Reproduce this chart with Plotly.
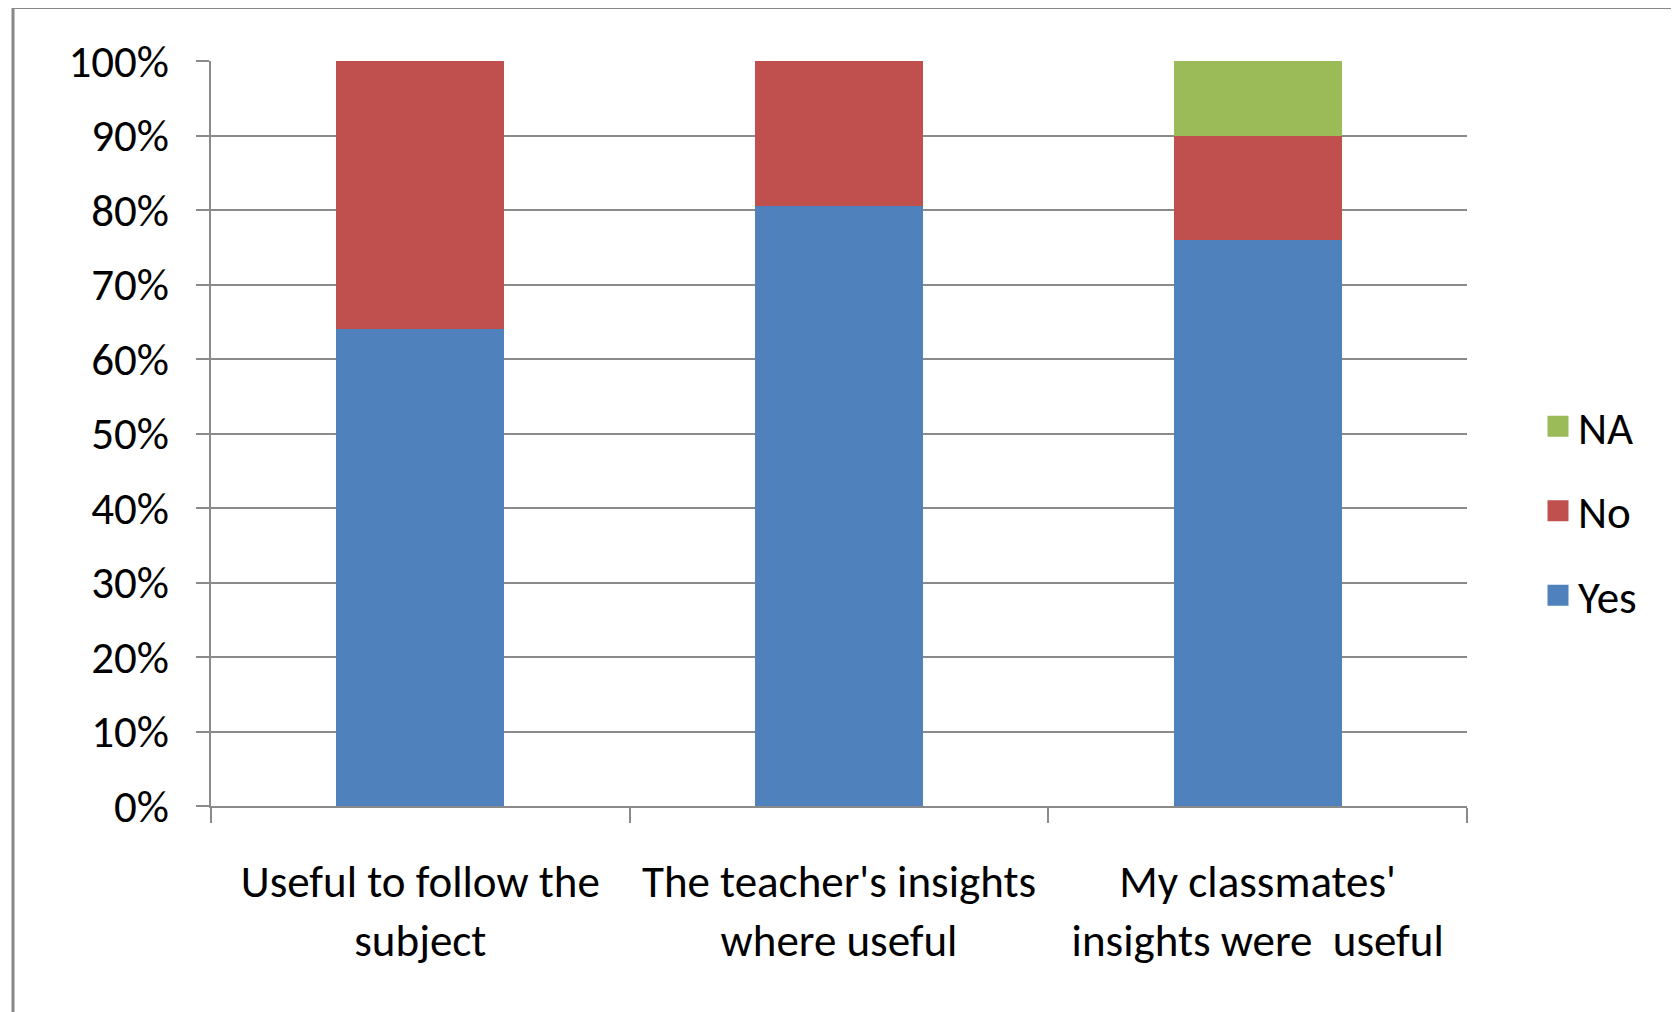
import plotly.graph_objects as go

categories = ["Useful to follow the<br>subject",
              "The teacher's insights<br>where useful",
              "My classmates'<br>insights were  useful"]
yes_vals = [0.64, 0.806, 0.76]
no_vals = [0.36, 0.194, 0.14]
na_vals = [0.0, 0.0, 0.10]
y_ticks = [0, 0.1, 0.2, 0.3, 0.4, 0.5, 0.6, 0.7, 0.8, 0.9, 1.0]

series = [("Yes", yes_vals, "#4F81BD"), ("No", no_vals, "#C0504D"), ("NA", na_vals, "#9BBB59")]

FONT = "Carlito, Lato, sans-serif"
GRID = "#8A8A8A"
FS = 45

fig = go.Figure()
for name, vals, col in series:
    fig.add_trace(go.Bar(x=categories, y=vals, name=name, marker=dict(color=col, line=dict(width=0)),
                         showlegend=False))
# legend entries (top to bottom: NA, No, Yes)
for name, vals, col in reversed(series):
    fig.add_trace(go.Scatter(x=[None], y=[None], mode="markers", name=name, legendgroup=name,
                             marker=dict(symbol="square", size=16, color=col,
                                         line=dict(color=col, width=5))))

W, H = 1679, 1012
OFF = 8  # page body margin
L, R, T, B = 211 - OFF, 1467 - OFF, 61 - OFF, 806 - OFF
pw, ph = R - L, B - T

def px_x(x):
    return (x - OFF - L) / pw

def px_y(y):
    return (B - (y - OFF)) / ph

fig.update_layout(
    width=W, height=H,
    margin=dict(l=L, r=W - R, t=T, b=H - B, pad=0),
    paper_bgcolor="white", plot_bgcolor="white",
    barmode="stack", bargap=0.598,
    font=dict(family=FONT, size=FS, color="black"),
    legend=dict(x=px_x(1538), xanchor="left", y=px_y(511), yanchor="middle",
                traceorder="grouped", tracegroupgap=23,
                font=dict(family=FONT, size=FS, color="black"),
                itemsizing="trace", bgcolor="rgba(0,0,0,0)"),
    xaxis=dict(type="category", showgrid=False, showline=True, linecolor=GRID, linewidth=2,
               ticks="outside", tickson="boundaries", ticklen=15, tickwidth=2, tickcolor=GRID,
               tickfont=dict(family=FONT, size=FS, color="black"), ticklabelstandoff=35),
    yaxis=dict(range=[0, 1], tickvals=y_ticks, tickformat=".0%", showgrid=True, gridcolor=GRID,
               gridwidth=2, zeroline=False, showline=True, linecolor=GRID, linewidth=2,
               ticks="outside", ticklen=13, tickwidth=2, tickcolor=GRID,
               tickfont=dict(family=FONT, size=FS, color="black"), ticklabelstandoff=18),
    shapes=[dict(type="rect", xref="paper", yref="paper",
                 x0=px_x(13), x1=px_x(1740), y0=px_y(1080), y1=px_y(7.5),
                 line=dict(color="#888888", width=3), fillcolor="rgba(0,0,0,0)", layer="above")],
)

fig.write_html("out.html")
